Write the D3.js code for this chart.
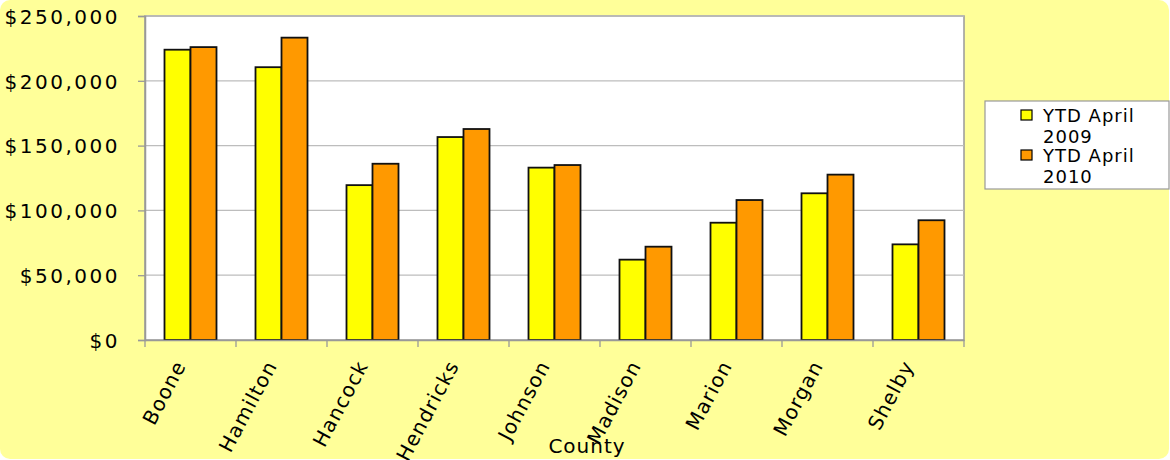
<!DOCTYPE html>
<meta charset="utf-8">
<script src="https://d3js.org/d3.v7.min.js"></script>
<style>
  body { margin: 0; background: #fff; }
  text { font-family: "DejaVu Sans", Verdana, sans-serif; fill: #000; }
</style>
<div id="chart"></div>
<script>
    var counties = ["Boone", "Hamilton", "Hancock", "Hendricks", "Johnson", "Madison", "Marion", "Morgan", "Shelby"];
    var series = ["YTD April 2009", "YTD April 2010"];
    var ytd2009 = [224000, 210500, 119500, 156600, 133000, 62000, 90500, 113200, 73800];
    var ytd2010 = [226000, 233300, 136000, 162800, 135000, 72000, 108000, 127600, 92400];
    var yTicks = [0, 50000, 100000, 150000, 200000, 250000];
    var colors = ["#ffff00", "#ff9900"];

    var W = 1170, H = 460;
    var plot = {left: 145, right: 964, top: 16, bottom: 340};

    var svg = d3.select("#chart").append("svg")
        .attr("width", W).attr("height", H);

    svg.append("rect")
        .attr("x", 0).attr("y", 0).attr("width", W - 1).attr("height", H - 1)
        .attr("rx", 10)
        .attr("fill", "#ffff99");

    var x = d3.scaleBand().domain(counties).range([plot.left, plot.right]).paddingInner(0).paddingOuter(0);
    var x1 = d3.scaleBand().domain(series).range([0, 52]);
    var y = d3.scaleLinear().domain([0, 250000]).range([plot.bottom, plot.top]);

    // plot area
    svg.append("rect")
        .attr("x", plot.left).attr("y", plot.top)
        .attr("width", plot.right - plot.left).attr("height", plot.bottom - plot.top)
        .attr("fill", "#fff").attr("stroke", "#999").attr("stroke-width", 1.5);

    // gridlines
    svg.append("g").selectAll("line")
        .data(yTicks.slice(1))
        .enter().append("line")
        .attr("x1", plot.left).attr("x2", plot.right)
        .attr("y1", d => y(d)).attr("y2", d => y(d))
        .attr("stroke", "#bdbdbd").attr("stroke-width", 1.3);

    // bars
    var rows = counties.map((c, i) => ({county: c, values: [ytd2009[i], ytd2010[i]]}));
    var groups = svg.append("g").selectAll("g")
        .data(rows)
        .enter().append("g")
        .attr("transform", d => "translate(" + (x(d.county) + (x.bandwidth() - 52) / 2) + ",0)");
    groups.selectAll("rect")
        .data(d => d.values.map((v, k) => ({key: series[k], v: v, k: k})))
        .enter().append("rect")
        .attr("x", d => x1(d.key))
        .attr("y", d => y(d.v))
        .attr("width", x1.bandwidth())
        .attr("height", d => y(0) - y(d.v))
        .attr("fill", d => colors[d.k])
        .attr("stroke", "#111").attr("stroke-width", 1.8);

    // y axis
    var yAxis = svg.append("g")
        .attr("transform", "translate(" + plot.left + ",0)")
        .call(d3.axisLeft(y).tickValues(yTicks).tickSize(7).tickPadding(18)
            .tickFormat(d => "$" + d3.format(",")(d)));
    yAxis.select(".domain").attr("stroke", "#999").attr("stroke-width", 1.5);
    yAxis.selectAll(".tick line").attr("stroke", "#999").attr("stroke-width", 1.3);
    yAxis.selectAll("text")
        .style("font-size", "20px").style("letter-spacing", "2.5px")
        .attr("dy", "0.36em");

    // x axis
    var xAxis = svg.append("g")
        .attr("transform", "translate(0," + plot.bottom + ")")
        .call(d3.axisBottom(x).tickSize(0).tickFormat(""));
    xAxis.select(".domain").attr("stroke", "#999").attr("stroke-width", 1.5);
    svg.append("g").selectAll("line")
        .data(d3.range(counties.length + 1))
        .enter().append("line")
        .attr("x1", i => plot.left + i * x.bandwidth()).attr("x2", i => plot.left + i * x.bandwidth())
        .attr("y1", plot.bottom).attr("y2", plot.bottom + 7)
        .attr("stroke", "#999").attr("stroke-width", 1.3);

    svg.append("g").selectAll("text")
        .data(counties)
        .enter().append("text")
        .attr("transform", d => "translate(" + (x(d) + x.bandwidth() / 2 - 10) + "," + (plot.bottom + 22) + ") rotate(-62)")
        .attr("text-anchor", "end")
        .attr("dy", "0.35em")
        .style("font-size", "20px").style("letter-spacing", "1.2px")
        .text(d => d);

    svg.append("text")
        .attr("x", 587).attr("y", 453)
        .attr("text-anchor", "middle")
        .style("font-size", "20px").style("letter-spacing", "1px")
        .text("County");

    // legend
    var lg = svg.append("g").attr("transform", "translate(985,101)");
    lg.append("rect")
        .attr("width", 184).attr("height", 88)
        .attr("fill", "#fff").attr("stroke", "#999").attr("stroke-width", 1.2);
    series.forEach(function(s, i) {
        var words = s.split(" ");
        var top = 9 + i * 40;
        lg.append("rect")
            .attr("x", 36).attr("y", top).attr("width", 11).attr("height", 10)
            .attr("fill", colors[i]).attr("stroke", "#000").attr("stroke-width", 1.2);
        var t = lg.append("text")
            .attr("x", 58).attr("y", top + 12)
            .style("font-size", "18px").style("letter-spacing", "1px");
        t.append("tspan").attr("x", 58).text(words[0] + " " + words[1]);
        t.append("tspan").attr("x", 58).attr("dy", 21).text(words[2]);
    });
</script>
